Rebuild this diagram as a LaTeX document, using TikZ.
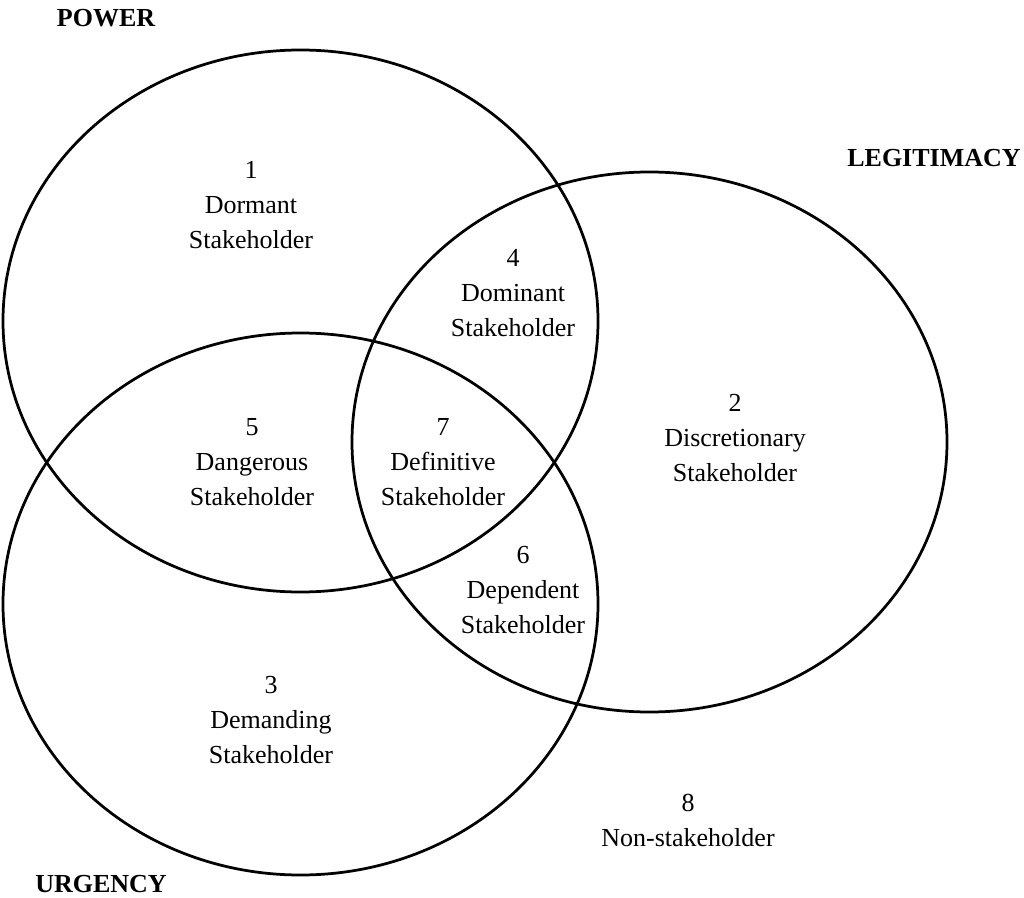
\documentclass[tikz,border=0pt]{standalone}
\usepackage{fontspec}
\setmainfont{Liberation Serif}
\begin{document}
\begin{tikzpicture}
[
  x=0.02cm,
  y=0.02cm,
	set/.style={line width=0.055cm},
	lbl/.style={align=center,inner sep=0pt,font=\fontsize{14.8}{19.9}\selectfont},
	ttl/.style={inner sep=0pt,font=\fontsize{14.8}{19.9}\selectfont\bfseries}
]
\useasboundingbox (0,0) rectangle (1024,-898);

\draw[set] (300.5,-321) ellipse [x radius=297.5, y radius=271];
\draw[set] (649.5,-442) ellipse [x radius=297.5, y radius=270];
\draw[set] (300.5,-604) ellipse [x radius=297.5, y radius=271];

\node[ttl](power) at (106,-18) {POWER};
\node[ttl](legit) at (934,-158) {LEGITIMACY};
\node[ttl](urgency) at (101,-884) {URGENCY};

\node[lbl](dormant) at (251,-205) {1\\Dormant\\Stakeholder};
\node[lbl](discr) at (735,-438) {2\\Discretionary\\Stakeholder};
\node[lbl](demand) at (271,-720) {3\\Demanding\\Stakeholder};
\node[lbl](domin) at (513,-293) {4\\Dominant\\Stakeholder};
\node[lbl](danger) at (252,-462) {5\\Dangerous\\Stakeholder};
\node[lbl](depend) at (523,-590) {6\\Dependent\\Stakeholder};
\node[lbl](defin) at (443,-462) {7\\Definitive\\Stakeholder};
\node[lbl](nonst) at (688,-820) {8\\Non-stakeholder};

\end{tikzpicture}
\end{document}
